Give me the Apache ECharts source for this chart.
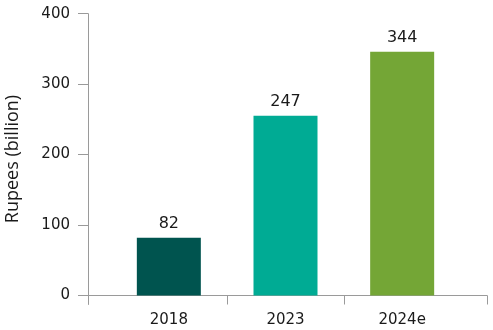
<!DOCTYPE html>
<html><head><meta charset="utf-8">
<script src="https://cdn.jsdelivr.net/npm/echarts@6/dist/echarts.min.js"></script>
<style>html,body{margin:0;padding:0;background:#fff}#c{width:493px;height:330px}</style>
</head><body><div id="c"></div>
<script>
const categories = ['2018', '2023', '2024e'];
const barHeights = [82, 255, 346];
const valueLabels = ['82', '247', '344'];
const barColors = ['#00544f', '#00ab94', '#74a636'];
const yTicks = [0, 100, 200, 300, 400];

const chart = echarts.init(document.getElementById('c'), null, {renderer: 'canvas'});
const numFont = '"DejaVu Sans", sans-serif';
const nameFont = '"Open Sans", sans-serif';
const axisColor = '#9a9a9a';
const textColor = '#1a1a1a';
const gTop = 13.7, gBottom = 25.7, yMin = -12.5, yMax = 400;
const gridBase = {top: gTop, bottom: gBottom, outerBoundsMode: 'none', containLabel: false};
const hiddenY = (g) => ({type: 'value', gridIndex: g, min: yMin, max: yMax,
  axisLine: {show: false}, axisTick: {show: false}, axisLabel: {show: false}, splitLine: {show: false}});
chart.setOption({
  animation: false,
  grid: [
    Object.assign({left: 110.5, right: 32.5}, gridBase),
    Object.assign({left: 88, right: 6}, gridBase),
    Object.assign({left: 227.5, right: 149}, gridBase)
  ],
  xAxis: [
    {type: 'category', gridIndex: 0, data: categories,
     axisLine: {show: true, onZero: true, lineStyle: {color: axisColor, opacity: 0}},
     axisTick: {show: false},
     axisLabel: {color: textColor, fontSize: 15, fontFamily: numFont, margin: 8}},
    {type: 'category', gridIndex: 1, data: [''],
     axisLine: {show: true, lineStyle: {color: axisColor}},
     axisTick: {show: true, length: 9, lineStyle: {color: axisColor}},
     axisLabel: {show: false}},
    {type: 'category', gridIndex: 2, data: [''],
     axisLine: {show: true, onZero: true, lineStyle: {color: axisColor, opacity: 0}},
     axisTick: {show: true, length: 9, lineStyle: {color: axisColor}},
     axisLabel: {show: false}}
  ],
  yAxis: [
    hiddenY(0),
    {type: 'value', gridIndex: 1, min: yMin, max: yMax,
     name: 'Rupees (billion)', nameLocation: 'middle', nameGap: 66,
     nameTextStyle: {color: textColor, fontSize: 18, fontFamily: nameFont},
     axisLine: {show: true, lineStyle: {color: axisColor}},
     axisTick: {show: true, length: 10, customValues: yTicks, lineStyle: {color: axisColor}},
     axisLabel: {color: textColor, fontSize: 15, fontFamily: numFont, margin: 18, customValues: yTicks},
     splitLine: {show: false}},
    hiddenY(2)
  ],
  series: [{
    type: 'bar', xAxisIndex: 0, yAxisIndex: 0,
    barWidth: 64,
    data: barHeights.map((v, i) => ({value: v, itemStyle: {color: barColors[i]}})),
    label: {show: true, position: 'top', distance: 6, color: textColor, fontSize: 16, fontFamily: numFont,
            formatter: (p) => valueLabels[p.dataIndex]}
  }]
});
</script></body></html>
